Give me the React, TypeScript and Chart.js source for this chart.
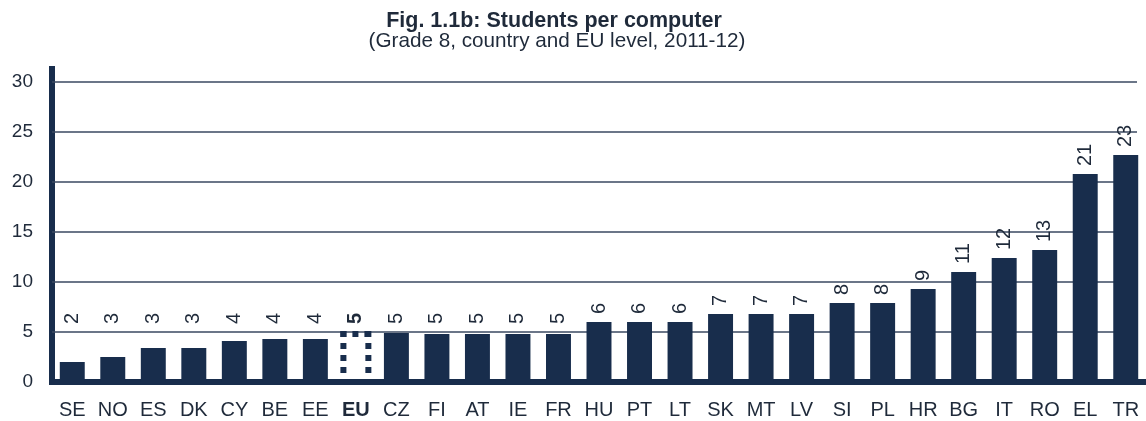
import React, { useEffect, useRef } from "react";
import { Chart, registerables } from "chart.js";

Chart.register(...registerables);

const categories = [
  "SE", "NO", "ES", "DK", "CY", "BE", "EE", "EU", "CZ", "FI", "AT", "IE", "FR", "HU",
  "PT", "LT", "SK", "MT", "LV", "SI", "PL", "HR", "BG", "IT", "RO", "EL", "TR",
];
const studentsPerComputer = [
  2.0, 2.5, 3.4, 3.4, 4.1, 4.3, 4.3, 4.8, 4.9, 4.8, 4.8, 4.8, 4.8, 6.0,
  6.0, 6.0, 6.8, 6.8, 6.8, 7.9, 7.9, 9.3, 11.0, 12.4, 13.2, 20.8, 22.7,
];
const yTicks = [0, 5, 10, 15, 20, 25, 30];
const highlightCategory = "EU";
const titleText = "Fig. 1.1b: Students per computer";
const subtitleText = "(Grade 8, country and EU level, 2011-12)";

const NAVY = "#182d4c";
const TEXT = "#1f2a3a";
const GRID = "#3a4860";
const FONT = '"Liberation Sans", Arial, sans-serif';

const titlePlugin = {
  id: "customTitle",
  afterDraw(chart: any) {
    const ctx = chart.ctx;
    ctx.save();
    ctx.fillStyle = TEXT;
    ctx.textAlign = "center";
    ctx.textBaseline = "middle";
    ctx.font = "bold 21.5px " + FONT;
    ctx.fillText(titleText, 554, 21);
    ctx.font = "20.7px " + FONT;
    ctx.fillText(subtitleText, 557, 41);
    ctx.restore();
  },
};

const gridPlugin = {
  id: "trimmedGrid",
  beforeDatasetsDraw(chart: any) {
    const ctx = chart.ctx;
    const yScale = chart.scales.y;
    const area = chart.chartArea;
    ctx.save();
    ctx.strokeStyle = GRID;
    ctx.lineWidth = 1.5;
    yTicks.forEach((v) => {
      if (v === 0) return;
      const py = yScale.getPixelForValue(v);
      ctx.beginPath();
      ctx.moveTo(area.left, py);
      ctx.lineTo(area.right - 9, py);
      ctx.stroke();
    });
    ctx.restore();
  },
};

const labelPlugin = {
  id: "valueLabels",
  afterDatasetsDraw(chart: any) {
    const ctx = chart.ctx;
    const meta = chart.getDatasetMeta(0);
    const yScale = chart.scales.y;
    const floorPx = yScale.getPixelForValue(5);
    ctx.save();
    meta.data.forEach((el: any, i: number) => {
      const isHi = categories[i] === highlightCategory;
      const anchor = Math.min(el.y, floorPx) - 8;
      ctx.save();
      ctx.translate(el.x, anchor);
      ctx.rotate(-Math.PI / 2);
      ctx.font = (isHi ? "bold " : "") + "20px " + FONT;
      ctx.fillStyle = TEXT;
      ctx.textAlign = "left";
      ctx.textBaseline = "middle";
      ctx.fillText(String(Math.round(studentsPerComputer[i])), 0, 0);
      ctx.restore();
      if (isHi) {
        const L = el.x - el.width / 2;
        const R = el.x + el.width / 2;
        const T = el.y;
        const B = el.base;
        ctx.save();
        ctx.strokeStyle = NAVY;
        ctx.lineWidth = 6;
        ctx.lineCap = "butt";
        ctx.setLineDash([6, 6]);
        ctx.beginPath();
        ctx.moveTo(L - 3, T);
        ctx.lineTo(R + 3, T);
        ctx.stroke();
        ctx.beginPath();
        ctx.moveTo(L, T - 3);
        ctx.lineTo(L, B - 4);
        ctx.stroke();
        ctx.beginPath();
        ctx.moveTo(R, T - 3);
        ctx.lineTo(R, B - 4);
        ctx.stroke();
        ctx.restore();
      }
    });
    ctx.restore();
  },
};

export default function App() {
  const ref = useRef<HTMLCanvasElement | null>(null);
  useEffect(() => {
    if (!ref.current) return;
    const chart = new Chart(ref.current, {
      type: "bar",
      data: {
        labels: categories,
        datasets: [
          {
            data: studentsPerComputer,
            backgroundColor: categories.map((c) => (c === highlightCategory ? "rgba(0,0,0,0)" : NAVY)),
            borderWidth: 0,
            barPercentage: 0.616,
            categoryPercentage: 1,
          },
        ],
      },
      options: {
        responsive: false,
        animation: false,
        devicePixelRatio: 1,
        layout: { padding: { top: 69, left: 0, right: 0, bottom: 0 } },
        plugins: {
          legend: { display: false },
          tooltip: { enabled: false },
          title: { display: false },
          subtitle: { display: false },
        },
        scales: {
          x: {
            grid: { display: false, drawTicks: false },
            border: { display: true, color: NAVY, width: 6 },
            ticks: {
              color: TEXT,
              padding: 16,
              maxRotation: 0,
              autoSkip: false,
              font: (c: any) => ({
                family: FONT,
                size: 20,
                weight: categories[c.index] === highlightCategory ? "bold" : "normal",
              }),
            },
            afterFit: (s: any) => {
              s.height = 39;
              s.paddingLeft = 0;
              s.paddingRight = 0;
            },
          },
          y: {
            min: 0,
            max: 31.3,
            grid: { display: false, drawTicks: false },
            border: { display: true, color: NAVY, width: 6 },
            ticks: {
              color: TEXT,
              padding: 19,
              font: { family: FONT, size: 19 },
            },
            afterBuildTicks: (s: any) => {
              s.ticks = yTicks.map((v) => ({ value: v }));
            },
            afterFit: (s: any) => {
              s.width = 52;
              s.paddingTop = 0;
              s.paddingBottom = 0;
            },
          },
        },
      },
      plugins: [gridPlugin, labelPlugin, titlePlugin],
    });
    return () => chart.destroy();
  }, []);
  return (
    <div style={{ position: "absolute", left: 0, top: 0, width: 1146, height: 421, background: "#ffffff" }}>
      <canvas ref={ref} width={1146} height={421} />
    </div>
  );
}
